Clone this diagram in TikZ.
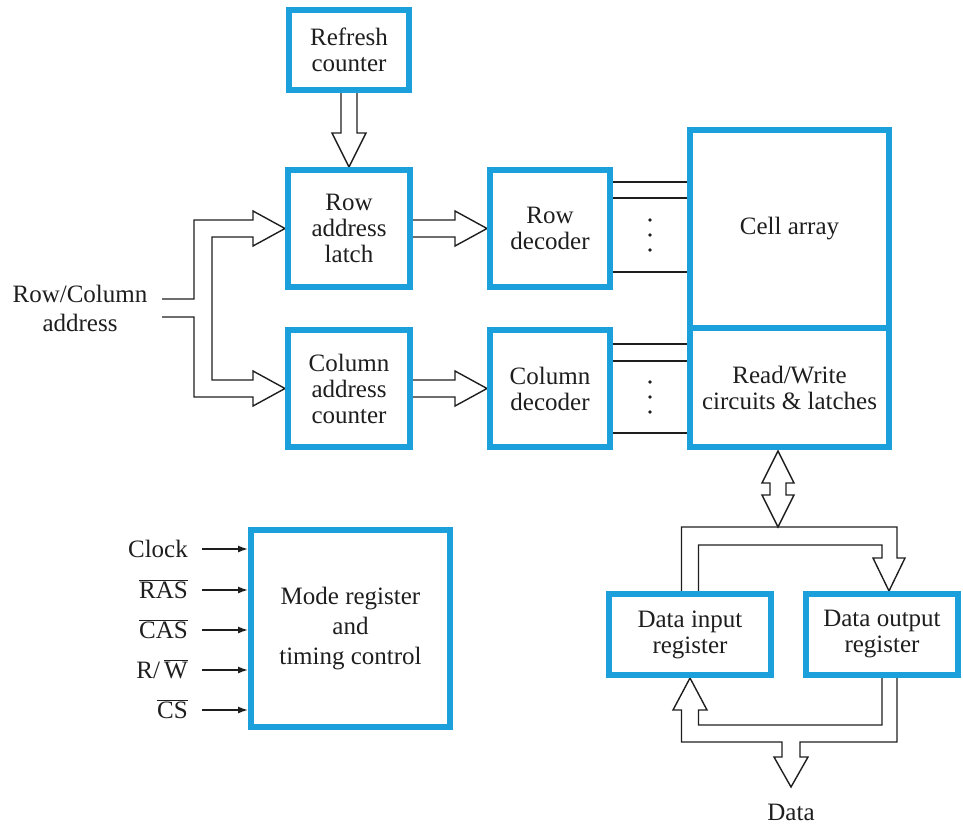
\documentclass[tikz,border=0pt]{standalone}
\usepackage{fontspec}
\setmainfont{Liberation Serif}
\usetikzlibrary{calc,arrows.meta,backgrounds}
\definecolor{boxblue}{RGB}{28,160,220}
\definecolor{ink}{RGB}{30,30,30}
\begin{document}
\begin{tikzpicture}[x=1pt,y=-1pt,
  blk/.style={draw=boxblue,line width=6pt,rectangle,inner sep=0pt,outer sep=0pt,align=center,text=ink,font=\fontsize{25}{26}\selectfont},
  bus/.style={draw=ink,line width=1.4pt,line join=miter},
  wire/.style={draw=ink,line width=1.4pt},
  sig/.style={draw=ink,line width=1.4pt,-{Latex[length=10pt,width=7pt]}},
  lbl/.style={text=ink,font=\fontsize{25}{26}\selectfont,inner sep=0pt,align=center}]
\useasboundingbox (0,0) rectangle (963,829);

% blocks
\node[blk,minimum width=120pt,minimum height=80pt] (rc) at (349,50) {Refresh\\counter};
\node[blk,minimum width=122pt,minimum height=117pt] (rl) at (349,228.5) {Row\\address\\latch};
\node[blk,minimum width=122pt,minimum height=117pt] (cc) at (349,388.5) {Column\\address\\counter};
\node[blk,minimum width=120pt,minimum height=117pt] (rd) at (550,228.5) {Row\\decoder};
\node[blk,minimum width=120pt,minimum height=117pt] (cd) at (550,388.5) {Column\\decoder};
\node[blk,minimum width=199pt,minimum height=198pt] (ca) at (789.5,229) {Cell array};
\node[blk,minimum width=199pt,minimum height=119pt] (rw) at (789.5,387.5) {Read/Write\\circuits \& latches};
\node[blk,minimum width=199pt,minimum height=197pt,font=\fontsize{25}{30}\selectfont] (mode) at (350.5,628.5) {Mode register\\and\\timing control};
\node[blk,minimum width=162pt,minimum height=81pt] (di) at (690,634.5) {Data input\\register};
\node[blk,minimum width=152pt,minimum height=81pt] (dout) at (882,634.5) {Data output\\register};

% labels
\node[lbl,font=\fontsize{25}{29}\selectfont] (addr) at (80,308) {Row/Column\\address};
\coordinate (in1) at (162,299);
\coordinate (in2) at (162,317);
\node[lbl,anchor=base east] (clk) at (188,557) {Clock};
\node[lbl,anchor=base east] (ras) at (188,598) {$\overline{\mbox{RAS}}$};
\node[lbl,anchor=base east] (cas) at (188,638) {$\overline{\mbox{CAS}}$};
\node[lbl,anchor=base east] (rwn) at (188,678) {R/\,$\overline{\mbox{W}}$};
\node[lbl,anchor=base east] (cs) at (188,718) {$\overline{\mbox{CS}}$};
\node[lbl] (data) at (791,812) {Data};
\coordinate (dtip) at (791,787);

\begin{pgfonlayer}{background}
% refresh -> row latch
\draw[bus] ($(rc.south)+(-8,3)$) -- ($(rl.north)+(-8,-37)$) -- ($(rl.north)+(-17,-37)$) -- ($(rl.north)+(0,-3)$)
  -- ($(rl.north)+(17,-37)$) -- ($(rl.north)+(8,-37)$) -- ($(rc.south)+(8,3)$);
% address bus
\draw[bus] (in1) -| ($(rl.west)+(-94,-8.5)$) -- ($(rl.west)+(-35,-8.5)$) -- ($(rl.west)+(-35,-17.5)$)
  -- ($(rl.west)+(-3,0)$) -- ($(rl.west)+(-35,17.5)$) -- ($(rl.west)+(-35,8.5)$) -- ($(rl.west)+(-76,8.5)$)
  -- ($(cc.west)+(-76,-8.5)$) -- ($(cc.west)+(-35,-8.5)$) -- ($(cc.west)+(-35,-17.5)$)
  -- ($(cc.west)+(-3,0)$) -- ($(cc.west)+(-35,17.5)$) -- ($(cc.west)+(-35,8.5)$) -- ($(cc.west)+(-94,8.5)$) |- (in2);
% latch -> decoder
\draw[bus] ($(rl.east)+(3,-8.5)$) -- ($(rd.west)+(-35,-8.5)$) -- ($(rd.west)+(-35,-17.5)$) -- ($(rd.west)+(-3,0)$)
  -- ($(rd.west)+(-35,17.5)$) -- ($(rd.west)+(-35,8.5)$) -- ($(rl.east)+(3,8.5)$);
\draw[bus] ($(cc.east)+(3,-8.5)$) -- ($(cd.west)+(-35,-8.5)$) -- ($(cd.west)+(-35,-17.5)$) -- ($(cd.west)+(-3,0)$)
  -- ($(cd.west)+(-35,17.5)$) -- ($(cd.west)+(-35,8.5)$) -- ($(cc.east)+(3,8.5)$);
% decoder -> array lines
\foreach \d in {12,28,102}
  \draw[wire] ($(rd.north east)+(0,\d)$) -- ($(rd.north east -| ca.west)+(0,\d)$);
\foreach \d in {14,31,103}
  \draw[wire] ($(cd.north east)+(0,\d)$) -- ($(cd.north east -| rw.west)+(0,\d)$);
\foreach \y in {220,235,250,382,397,412}
  \fill[ink] (650,\y) circle (1.8);
% read/write <-> data bus
\draw[bus] ($(rw.south)+(-11.5,4)$) -- ++(16,32) -- ++(-8,0) -- ++(0,12) -- ++(8,0) -- ++(-16,32)
  -- ++(-16,-32) -- ++(8,0) -- ++(0,-12) -- ++(-8,0) -- cycle;
% top data bus
\draw[bus] ($(di.north)+(-8.5,-3)$) -- ($(di.north)+(-8.5,-67)$) -- ($(dout.north)+(15,-67)$) -- ($(dout.north)+(15,-36)$)
  -- ($(dout.north)+(23,-36)$) -- ($(dout.north)+(7,-3)$) -- ($(dout.north)+(-9,-36)$) -- ($(dout.north)+(0,-36)$)
  -- ($(dout.north)+(0,-49)$) -- ($(di.north)+(8.5,-49)$) -- ($(di.north)+(8.5,-3)$);
% bottom data bus
\draw[bus] ($(dout.south)+(0,3)$) -- ($(dout.south)+(0,50)$) -- ($(di.south)+(8.5,50)$) -- ($(di.south)+(8.5,35)$)
  -- ($(di.south)+(17,35)$) -- ($(di.south)+(0,3)$) -- ($(di.south)+(-17,35)$) -- ($(di.south)+(-8.5,35)$)
  -- ($(di.south)+(-8.5,67)$) -- ($(dtip)+(-9,-45)$) -- ($(dtip)+(-9,-30)$) -- ($(dtip)+(-17,-30)$) -- (dtip)
  -- ($(dtip)+(17,-30)$) -- ($(dtip)+(9,-30)$) -- ($(dtip)+(9,-45)$) -- ($(dout.south)+(15,67)$) -- ($(dout.south)+(15,3)$);
% control inputs
\foreach \n in {clk,ras,cas,rwn,cs}
  \draw[sig] ($(\n.base east)+(14,-8)$) -- ($(mode.west |- \n.base east)+(-3,-8)$);
\end{pgfonlayer}
\end{tikzpicture}
\end{document}
